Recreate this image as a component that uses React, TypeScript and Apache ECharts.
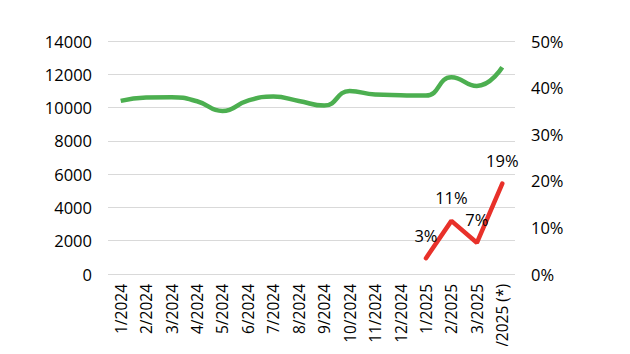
import React, { useEffect, useRef } from "react";
import * as echarts from "echarts";

const categories = [
  "1/2024", "2/2024", "3/2024", "4/2024", "5/2024", "6/2024", "7/2024", "8/2024",
  "9/2024", "10/2024", "11/2024", "12/2024", "1/2025", "2/2025", "3/2025", "4/2025 (*)",
];
const greenValues = [
  10400, 10600, 10620, 10380, 9800, 10420, 10660, 10400,
  10120, 11000, 10780, 10740, 10720, 11820, 11300, 12420,
];
const redValues: (number | null)[] = [
  null, null, null, null, null, null, null, null,
  null, null, null, null, 3.4, 11.4, 6.7, 19.4,
];
const leftTicks = { min: 0, max: 14000, interval: 2000 };
const rightTicks = { min: 0, max: 50, interval: 10 };

const FONT = "'Open Sans', sans-serif";

export default function App() {
  const ref = useRef<HTMLDivElement>(null);
  useEffect(() => {
    if (!ref.current) return;
    const chart = echarts.init(ref.current, undefined, { renderer: "svg" });
    chart.setOption({
      animation: false,
      textStyle: { fontFamily: FONT },
      grid: {
        left: 108,
        right: 115,
        top: 41,
        bottom: 80,
        containLabel: false,
        outerBoundsMode: "none",
      },
      xAxis: {
        type: "category",
        data: categories,
        boundaryGap: true,
        axisLine: { show: false },
        axisTick: { show: false },
        axisLabel: {
          rotate: 90,
          interval: 0,
          margin: 10,
          fontSize: 15.5,
          color: "#000",
          fontFamily: FONT,
        },
      },
      yAxis: [
        {
          type: "value",
          ...leftTicks,
          axisLine: { show: false },
          axisTick: { show: false },
          splitLine: { lineStyle: { color: "#d9d9d9", width: 1 } },
          axisLabel: {
            fontSize: 16.5,
            color: "#000",
            margin: 16,
            fontFamily: FONT,
            formatter: (v: number) => `${v}`,
          },
        },
        {
          type: "value",
          ...rightTicks,
          axisLine: { show: false },
          axisTick: { show: false },
          splitLine: { show: false },
          axisLabel: {
            fontSize: 16.5,
            color: "#000",
            margin: 16,
            fontFamily: FONT,
            formatter: (v: number) => `${v}%`,
          },
        },
      ],
      series: [
        {
          type: "line",
          data: greenValues,
          yAxisIndex: 0,
          smooth: true,
          showSymbol: false,
          symbol: "none",
          lineStyle: { color: "#4caf50", width: 4.5 },
          itemStyle: { color: "#4caf50" },
        },
        {
          type: "line",
          data: redValues,
          yAxisIndex: 1,
          smooth: false,
          symbol: "circle",
          symbolSize: 1,
          lineStyle: { color: "#e8312a", width: 4.5, cap: "round" },
          itemStyle: { color: "#e8312a" },
          label: {
            show: true,
            position: "top",
            distance: 14,
            fontSize: 16.5,
            color: "#000",
            fontFamily: FONT,
            formatter: (p: any) => `${Math.round(p.value)}%`,
          },
        },
      ],
    });
    return () => chart.dispose();
  }, []);
  return <div ref={ref} style={{ width: 630, height: 354, margin: -8 }} />;
}
